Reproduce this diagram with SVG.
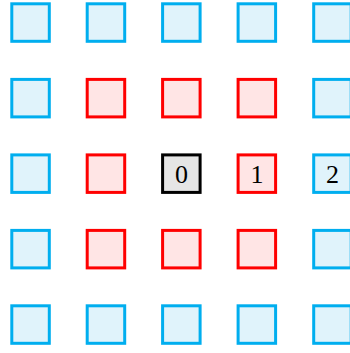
<svg xmlns="http://www.w3.org/2000/svg" width="350" height="353" viewBox="0 0 350 353">
<style>
.b{fill:#E0F3FB;stroke:#00AEEF;stroke-width:3}
.r{fill:#FFE5E5;stroke:#FF0000;stroke-width:3}
.k{fill:#E5E5E5;stroke:#000000;stroke-width:3}
.t{font-family:"Liberation Serif","DejaVu Serif",serif;font-size:26px;fill:#000;text-anchor:middle}
</style>
<rect width="350" height="353" fill="#fff"/>
<g id="n00"><rect class="b" x="11.8" y="3.8" width="37.5" height="37.5"/></g>
<g id="n01"><rect class="b" x="87.2" y="3.8" width="37.5" height="37.5"/></g>
<g id="n02"><rect class="b" x="162.6" y="3.8" width="37.5" height="37.5"/></g>
<g id="n03"><rect class="b" x="238.1" y="3.8" width="37.5" height="37.5"/></g>
<g id="n04"><rect class="b" x="313.7" y="3.8" width="37.5" height="37.5"/></g>

<g id="n10"><rect class="b" x="11.8" y="79.4" width="37.5" height="37.5"/></g>
<g id="n11"><rect class="r" x="87.2" y="79.4" width="37.5" height="37.5"/></g>
<g id="n12"><rect class="r" x="162.6" y="79.4" width="37.5" height="37.5"/></g>
<g id="n13"><rect class="r" x="238.1" y="79.4" width="37.5" height="37.5"/></g>
<g id="n14"><rect class="b" x="313.7" y="79.4" width="37.5" height="37.5"/></g>

<g id="n20"><rect class="b" x="11.8" y="154.9" width="37.5" height="37.5"/></g>
<g id="n21"><rect class="r" x="87.2" y="154.9" width="37.5" height="37.5"/></g>
<g id="n22"><rect class="k" x="162.6" y="154.9" width="37.5" height="37.5"/><text class="t" x="181.4" y="182.6">0</text></g>
<g id="n23"><rect class="r" x="238.1" y="154.9" width="37.5" height="37.5"/><text class="t" x="256.9" y="182.6">1</text></g>
<g id="n24"><rect class="b" x="313.7" y="154.9" width="37.5" height="37.5"/><text class="t" x="332.5" y="182.6">2</text></g>

<g id="n30"><rect class="b" x="11.8" y="230.4" width="37.5" height="37.5"/></g>
<g id="n31"><rect class="r" x="87.2" y="230.4" width="37.5" height="37.5"/></g>
<g id="n32"><rect class="r" x="162.6" y="230.4" width="37.5" height="37.5"/></g>
<g id="n33"><rect class="r" x="238.1" y="230.4" width="37.5" height="37.5"/></g>
<g id="n34"><rect class="b" x="313.7" y="230.4" width="37.5" height="37.5"/></g>

<g id="n40"><rect class="b" x="11.8" y="305.8" width="37.5" height="37.5"/></g>
<g id="n41"><rect class="b" x="87.2" y="305.8" width="37.5" height="37.5"/></g>
<g id="n42"><rect class="b" x="162.6" y="305.8" width="37.5" height="37.5"/></g>
<g id="n43"><rect class="b" x="238.1" y="305.8" width="37.5" height="37.5"/></g>
<g id="n44"><rect class="b" x="313.7" y="305.8" width="37.5" height="37.5"/></g>
<g id="connectors"></g>
</svg>
